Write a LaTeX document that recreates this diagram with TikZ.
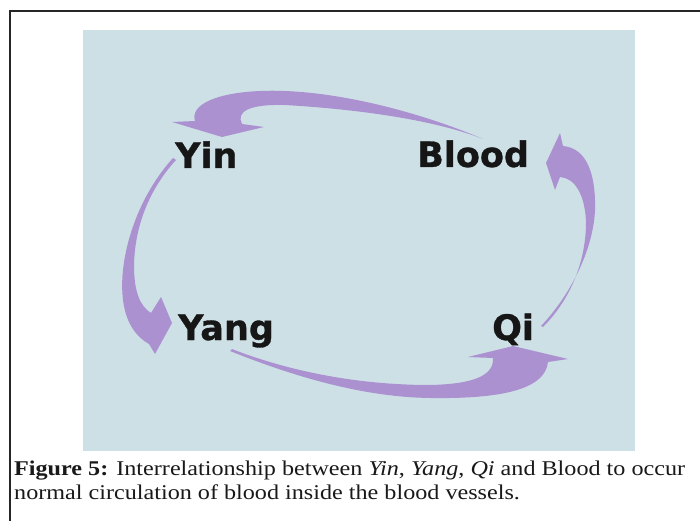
\documentclass[tikz,border=0pt]{standalone}
\usepackage{fontspec}
\setmainfont{Liberation Serif}[FakeStretch=1.15]
\newfontfamily\lblfont{DejaVu Sans Bold}[FakeBold=0.9]
\definecolor{panelblue}{RGB}{205,224,230}
\definecolor{arrpurple}{RGB}{171,145,208}
\definecolor{lbltext}{RGB}{22,22,22}
\tikzset{
  lbl/.style={anchor=base west, inner sep=0pt, text=lbltext, font=\lblfont\fontsize{35}{40}\selectfont},
  captext/.style={anchor=base west, inner sep=0pt, text=black!90, font=\fontsize{21}{25}\selectfont},
  arr/.style={fill=arrpurple}
}
\begin{document}
\begin{tikzpicture}[x=1pt,y=-1pt]
\useasboundingbox (0,0) rectangle (700,521);
\fill[white] (0,0) rectangle (700,521);
\draw[line width=1.3pt, black!85] (10,521) -- (10,11) -- (700,11);
\fill[panelblue] (83,30) rectangle (635,451);

% labels
\node[lbl] (yin) at (175,168) {Yin};
\node[lbl] (blood) at (417,167) {Blood};
\node[lbl] (yang) at (178,340) {Yang};
\node[lbl] (qi) at (492,340) {Qi};

% Blood -> Yin (top)
\fill[arr] (483,139)
  .. controls (420,112) and (330,88) .. (260,91)
  .. controls (215,93) and (190,105) .. (195,121)
  -- (172,122) -- (222,137) -- (264,127) -- (242,124)
  .. controls (236,112) and (248,104) .. (285,105)
  .. controls (370,110) and (440,122) .. (483,139) -- cycle;

% Yin -> Yang (left)
\fill[arr] (173,158)
  .. controls (135,200) and (118,260) .. (123,300)
  .. controls (126,325) and (138,338) .. (149,344)
  -- (155,354) -- (172,323) -- (161,297) -- (151,313)
  .. controls (140,306) and (134,292) .. (134,265)
  .. controls (135,222) and (152,186) .. (176,160) -- cycle;

% Yang -> Qi (bottom)
\fill[arr] (230,351)
  .. controls (290,375) and (360,397) .. (430,398)
  .. controls (500,399) and (545,390) .. (548,362)
  -- (568,359) -- (513,346) -- (468,357) -- (493,358)
  .. controls (494,375) and (475,384) .. (430,385)
  .. controls (350,385) and (280,368) .. (232,349) -- cycle;

% Qi -> Blood (right)
\fill[arr] (541,326)
  .. controls (575,290) and (597,240) .. (595,200)
  .. controls (594,170) and (585,148) .. (563,146)
  -- (560,133) -- (546,163) -- (555,190) -- (560,177)
  .. controls (575,178) and (585,195) .. (586,222)
  .. controls (586,262) and (570,300) .. (543,327) -- cycle;

% caption
\node[captext] (cap1) at (14,475) {\textbf{Figure 5:} Interrelationship between \textit{Yin}, \textit{Yang}, \textit{Qi} and Blood to occur};
\node[captext] (cap2) at (14,499) {normal circulation of blood inside the blood vessels.};
\end{tikzpicture}
\end{document}
